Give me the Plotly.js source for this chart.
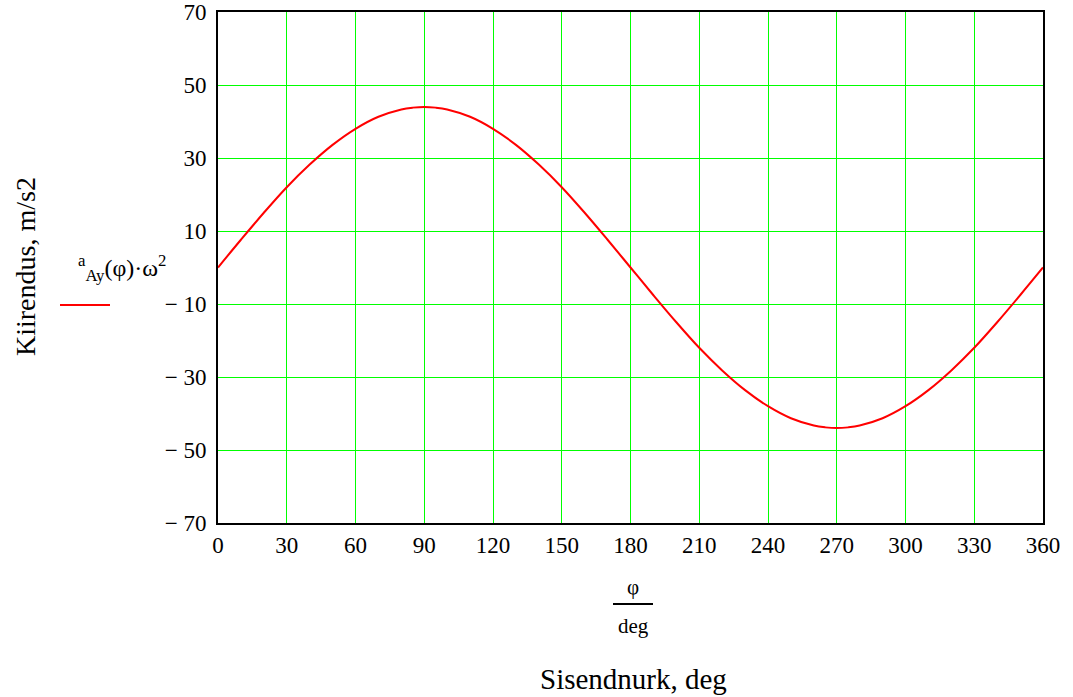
<!DOCTYPE html>
<html>
<head>
<meta charset="utf-8">
<script src="https://cdn.plot.ly/plotly-3.0.1.min.js"></script>
<style>html,body{margin:0;padding:0;background:#fff;}#chart{width:1073px;height:697px;}</style>
</head>
<body>
<div id="chart"></div>
<script>
const phiDeg = [0,10,20,30,40,50,60,70,80,85,90,95,100,110,120,130,140,150,160,170,180,190,200,210,220,230,240,250,260,265,270,275,280,290,300,310,320,330,340,350,360];
const accel  = [0,7.6,15,22,28.2,33.6,38,41.3,43.3,43.8,44,43.8,43.3,41.3,38,33.6,28.2,22,15,7.6,0,-7.6,-15,-22,-28.2,-33.6,-38,-41.3,-43.3,-43.8,-44,-43.8,-43.3,-41.3,-38,-33.6,-28.2,-22,-15,-7.6,0];
const xTicks = [0,30,60,90,120,150,180,210,240,270,300,330,360];
const yTicks = [-70,-50,-30,-10,10,30,50,70];
const yTickText = ["− 70","− 50","− 30","− 10","10","30","50","70"];

const font = "'Liberation Serif', 'Times New Roman', serif";
const trace = {
  x: phiDeg, y: accel, type: 'scatter', mode: 'lines',
  line: {color: '#ff0000', width: 2, shape: 'spline'},
  showlegend: false, hoverinfo: 'skip'
};
const layout = {
  width: 1073, height: 697,
  margin: {l: 218, r: 30, t: 12, b: 174},
  paper_bgcolor: '#fff', plot_bgcolor: '#fff',
  font: {family: font, size: 22, color: '#000'},
  xaxis: {
    range: [0, 360], tickvals: xTicks, ticktext: xTicks.map(String),
    showgrid: true, gridcolor: '#00ff00', gridwidth: 1,
    showline: true, linecolor: '#000', linewidth: 2, mirror: true,
    ticks: '', zeroline: false, tickfont: {family: font, size: 23, color: '#000'}
  },
  yaxis: {
    range: [-70, 70], tickvals: yTicks, ticktext: yTickText,
    showgrid: true, gridcolor: '#00ff00', gridwidth: 1,
    showline: true, linecolor: '#000', linewidth: 2, mirror: true,
    ticks: '', zeroline: false, ticklabelstandoff: 5,
    tickfont: {family: font, size: 23, color: '#000'}
  },
  shapes: [
    {type: 'line', xref: 'paper', yref: 'paper', x0: (60-218)/825, x1: (110-218)/825, y0: (523-305)/511, y1: (523-305)/511, line: {color: '#ff0000', width: 2}},
    {type: 'line', xref: 'paper', yref: 'paper', x0: (613-218)/825, x1: (653-218)/825, y0: (523-604)/511, y1: (523-604)/511, line: {color: '#000', width: 2}}
  ],
  annotations: [
    {xref: 'paper', yref: 'paper', x: (25-218)/825, y: (523-267)/511, text: 'Kiirendus, m/s2', textangle: -90, showarrow: false, font: {family: font, size: 28}, xanchor: 'center', yanchor: 'middle'},
    {xref: 'paper', yref: 'paper', x: (122-218)/825, y: (523-268)/511, text: '<sup>a</sup><sub>Ay</sub>(φ)·ω<sup>2</sup>', showarrow: false, font: {family: font, size: 24}, xanchor: 'center', yanchor: 'middle'},
    {xref: 'paper', yref: 'paper', x: (633-218)/825, y: (523-587)/511, text: 'φ', showarrow: false, font: {family: font, size: 21}, xanchor: 'center', yanchor: 'middle'},
    {xref: 'paper', yref: 'paper', x: (633-218)/825, y: (523-626)/511, text: 'deg', showarrow: false, font: {family: font, size: 21}, xanchor: 'center', yanchor: 'middle'},
    {xref: 'paper', yref: 'paper', x: (633-218)/825, y: (523-679)/511, text: 'Sisendnurk, deg', showarrow: false, font: {family: font, size: 29}, xanchor: 'center', yanchor: 'middle'}
  ]
};
Plotly.newPlot('chart', [trace], layout, {displayModeBar: false, staticPlot: true});
</script>
</body>
</html>
